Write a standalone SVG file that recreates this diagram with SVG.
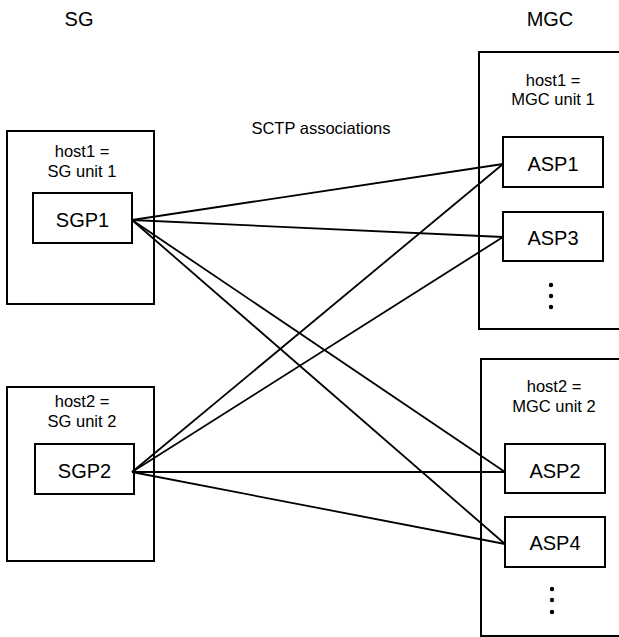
<svg xmlns="http://www.w3.org/2000/svg" width="619" height="637" viewBox="0 0 619 637">
  <style>
    text { font-family: "Liberation Sans", Arial, sans-serif; fill: #000; text-anchor: middle; }
    .title { font-size: 20px; }
    .host { font-size: 16.5px; }
    .proc { font-size: 20px; }
    .box { fill: #fff; stroke: #000; stroke-width: 2; }
    .assoc { fill: none; stroke: #000; stroke-width: 1.8; }
    .dot { fill: #000; }
  </style>
  <rect width="619" height="637" fill="#fff"/>

  <!-- column headings -->
  <text class="title" x="79" y="26">SG</text>
  <text class="title" x="550" y="26">MGC</text>
  <text class="host" x="321" y="134">SCTP associations</text>

  <!-- signalling gateway, unit 1 -->
  <g id="sg-unit1">
    <rect class="box" x="7" y="131" width="147" height="173"/>
    <text class="host" x="82" y="157">host1 =</text>
    <text class="host" x="82" y="177">SG unit 1</text>
  </g>
  <g id="sgp1">
    <rect class="box" x="33" y="193" width="99" height="50"/>
    <text class="proc" x="82.5" y="227">SGP1</text>
  </g>

  <!-- signalling gateway, unit 2 -->
  <g id="sg-unit2">
    <rect class="box" x="7" y="387" width="147" height="174"/>
    <text class="host" x="82" y="407">host2 =</text>
    <text class="host" x="82" y="427">SG unit 2</text>
  </g>
  <g id="sgp2">
    <rect class="box" x="35" y="444" width="99" height="50"/>
    <text class="proc" x="84.5" y="478">SGP2</text>
  </g>

  <!-- media gateway controller, unit 1 -->
  <g id="mgc-unit1">
    <rect class="box" x="479" y="52" width="150" height="277"/>
    <text class="host" x="553" y="86">host1 =</text>
    <text class="host" x="553" y="105">MGC unit 1</text>
    <circle class="dot" cx="551" cy="285" r="2.2"/>
    <circle class="dot" cx="551" cy="296" r="2.2"/>
    <circle class="dot" cx="551" cy="307" r="2.2"/>
  </g>
  <g id="asp1">
    <rect class="box" x="503" y="137" width="100" height="50"/>
    <text class="proc" x="553" y="171">ASP1</text>
  </g>
  <g id="asp3">
    <rect class="box" x="503" y="212" width="100" height="49"/>
    <text class="proc" x="553" y="245">ASP3</text>
  </g>

  <!-- media gateway controller, unit 2 -->
  <g id="mgc-unit2">
    <rect class="box" x="481" y="359" width="150" height="277"/>
    <text class="host" x="554" y="392">host2 =</text>
    <text class="host" x="554" y="412">MGC unit 2</text>
    <circle class="dot" cx="552" cy="589" r="2.2"/>
    <circle class="dot" cx="552" cy="600" r="2.2"/>
    <circle class="dot" cx="552" cy="612" r="2.2"/>
  </g>
  <g id="asp2">
    <rect class="box" x="505" y="444" width="100" height="49"/>
    <text class="proc" x="555" y="478">ASP2</text>
  </g>
  <g id="asp4">
    <rect class="box" x="505" y="517" width="100" height="50"/>
    <text class="proc" x="555" y="550">ASP4</text>
  </g>

  <!-- SCTP associations between SGPs and ASPs -->
  <g id="connectors">
    <line class="assoc" x1="132" y1="220" x2="503" y2="164"/>
    <line class="assoc" x1="132" y1="220" x2="503" y2="237"/>
    <line class="assoc" x1="132" y1="220" x2="505" y2="472"/>
    <line class="assoc" x1="132" y1="220" x2="505" y2="544"/>
    <line class="assoc" x1="132" y1="472" x2="503" y2="164"/>
    <line class="assoc" x1="132" y1="472" x2="503" y2="237"/>
    <line class="assoc" x1="132" y1="472" x2="505" y2="472"/>
    <line class="assoc" x1="132" y1="472" x2="505" y2="544"/>
  </g>
</svg>
